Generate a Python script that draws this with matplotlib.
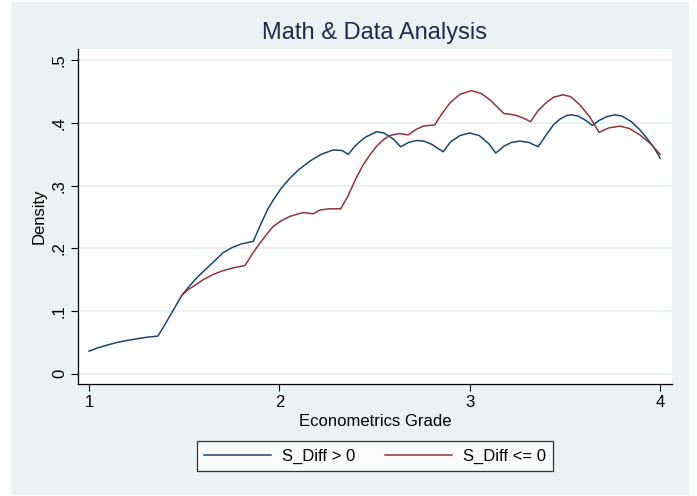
import matplotlib
matplotlib.use("Agg")
import matplotlib.pyplot as plt
from matplotlib.patches import Rectangle

plt.rcParams['font.family'] = ['Liberation Sans', 'DejaVu Sans']

# Data
x_pos = [1.0, 1.05, 1.1, 1.15, 1.2, 1.25, 1.3, 1.362,
         1.40, 1.44, 1.487,
         1.52, 1.557, 1.60, 1.65, 1.704, 1.75, 1.80, 1.863,
         1.90, 1.94, 1.968, 2.01, 2.056, 2.10, 2.134,
         2.17, 2.22, 2.283, 2.33, 2.362,
         2.40, 2.45, 2.511, 2.55, 2.60, 2.637,
         2.68, 2.721, 2.76, 2.80, 2.861,
         2.90, 2.95, 3.0, 3.05, 3.10, 3.137,
         3.18, 3.22, 3.264, 3.31, 3.36,
         3.40, 3.44, 3.474, 3.51, 3.535, 3.57, 3.61, 3.645,
         3.68, 3.72, 3.763, 3.80, 3.85, 3.894, 3.93, 3.97, 4.0]
y_pos = [0.036, 0.0415, 0.046, 0.050, 0.053, 0.0555, 0.058, 0.060,
         0.079, 0.100, 0.1246,
         0.137, 0.150, 0.163, 0.177, 0.193, 0.201, 0.207, 0.211,
         0.237, 0.263, 0.277, 0.296, 0.312, 0.325, 0.333,
         0.341, 0.350, 0.357, 0.356, 0.350,
         0.364, 0.377, 0.386, 0.384, 0.374, 0.362,
         0.369, 0.372, 0.371, 0.366, 0.354,
         0.370, 0.380, 0.384, 0.380, 0.367, 0.352,
         0.363, 0.369, 0.371, 0.369, 0.362,
         0.380, 0.397, 0.406, 0.412, 0.413, 0.411, 0.404, 0.396,
         0.404, 0.410, 0.413, 0.411, 0.402, 0.389, 0.376, 0.360, 0.344]

x_neg = [1.487, 1.52, 1.557, 1.60, 1.65, 1.70, 1.76, 1.819,
         1.86, 1.90, 1.94, 1.968, 2.01, 2.056, 2.10, 2.126, 2.178, 2.213, 2.26, 2.322,
         2.36, 2.40, 2.44, 2.48, 2.511, 2.55, 2.58, 2.63, 2.677,
         2.72, 2.756, 2.817,
         2.85, 2.896, 2.95, 3.01, 3.06, 3.106, 3.14, 3.18,
         3.21, 3.246, 3.28, 3.32,
         3.36, 3.404, 3.44, 3.49, 3.53, 3.579, 3.63, 3.68,
         3.73, 3.789, 3.84, 3.894, 3.95, 4.0]
y_neg = [0.1246, 0.134, 0.141, 0.150, 0.158, 0.164, 0.169, 0.1725,
         0.192, 0.209, 0.225, 0.235, 0.244, 0.251, 0.255, 0.257, 0.255, 0.261, 0.263, 0.263,
         0.283, 0.310, 0.333, 0.351, 0.363, 0.374, 0.380, 0.383, 0.381,
         0.390, 0.395, 0.397,
         0.413, 0.432, 0.446, 0.4516, 0.447, 0.437, 0.427, 0.415,
         0.414, 0.412, 0.408, 0.402,
         0.420, 0.433, 0.441, 0.445, 0.442, 0.429, 0.410, 0.385,
         0.392, 0.395, 0.391, 0.381, 0.367, 0.350]

labels = ["S_Diff > 0", "S_Diff <= 0"]
x_ticks = [1, 2, 3, 4]
y_ticks = [0, 0.1, 0.2, 0.3, 0.4, 0.5]
y_ticklabels = ["0", ".1", ".2", ".3", ".4", ".5"]

bg = '#EAF2F3'
fig = plt.figure(figsize=(6.97, 4.96), dpi=100)
fig.patch.set_facecolor('white')
fig.patches.append(Rectangle((11/697, 1/496), 678/697, 493/496, transform=fig.transFigure,
                             facecolor=bg, edgecolor='none', zorder=-10))

ax = fig.add_axes([78/697, 1 - 384/496, (672 - 78)/697, (384 - 49)/496])
ax.set_facecolor('white')
l1, = ax.plot(x_pos, y_pos, color='#1A476F', lw=1.1, label=labels[0])
l2, = ax.plot(x_neg, y_neg, color='#90353B', lw=1.1, label=labels[1])

ax.set_xlim(0.942, 4.063)
ax.set_ylim(-0.0165, 0.518)
ax.set_xticks(x_ticks)
ax.set_xticklabels([str(t) for t in x_ticks], fontsize=12)
ax.set_yticks(y_ticks)
ax.set_yticklabels(y_ticklabels, fontsize=12, rotation=90, va='center')
ax.tick_params(direction='out', length=5, width=0.8, color='black', pad=3)
for s in ['top', 'right']:
    ax.spines[s].set_visible(False)
for s in ['left', 'bottom']:
    ax.spines[s].set_color('black')
    ax.spines[s].set_linewidth(0.9)
ax.yaxis.grid(True, color='#E4EDEF', lw=1.2)
ax.set_axisbelow(True)
ax.set_xlabel('Econometrics Grade', fontsize=12, labelpad=3)
ax.set_ylabel('Density', fontsize=12, labelpad=4)

fig.text(375/697, 1 - 33/496, 'Math & Data Analysis', fontsize=17, color='#1E2C50',
         ha='center', va='center')

leg = fig.legend(handles=[l1, l2], labels=labels, loc='center', ncol=2,
                 bbox_to_anchor=(375/697, 1 - 456/496), fontsize=12, frameon=True,
                 fancybox=False, edgecolor='black', handlelength=4.0, columnspacing=1.8,
                 borderpad=0.45, borderaxespad=0, handletextpad=0.65)
leg.get_frame().set_linewidth(0.9)

fig.savefig('out.png', dpi=100, facecolor='white')
